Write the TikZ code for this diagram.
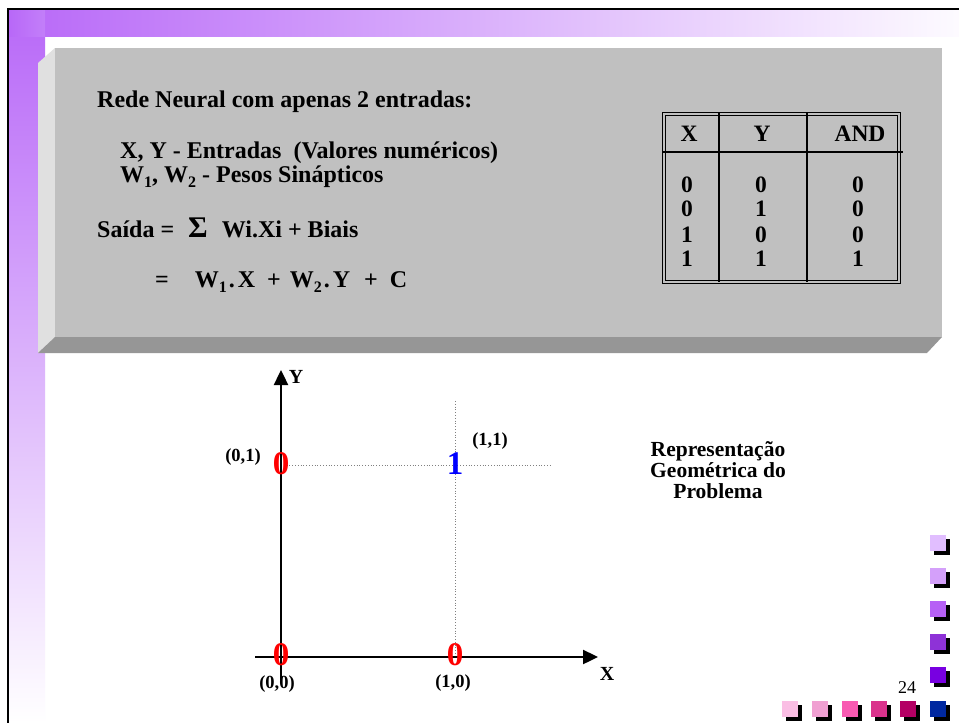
\documentclass[tikz,border=0pt]{standalone}
\usepackage{fontspec}
\setmainfont{Liberation Serif}
\usetikzlibrary{arrows.meta}
\definecolor{purp}{RGB}{184,104,248}
\definecolor{faceg}{RGB}{192,192,192}
\definecolor{lightg}{RGB}{224,224,224}
\definecolor{darkg}{RGB}{150,150,150}
\definecolor{rc1}{RGB}{225,190,255}
\definecolor{rc2}{RGB}{212,160,250}
\definecolor{rc3}{RGB}{182,96,245}
\definecolor{rc4}{RGB}{142,50,215}
\definecolor{rc5}{RGB}{120,0,225}
\definecolor{navy}{RGB}{0,40,160}
\definecolor{bc1}{RGB}{250,190,228}
\definecolor{bc2}{RGB}{240,160,210}
\definecolor{bc3}{RGB}{248,90,178}
\definecolor{bc4}{RGB}{218,50,140}
\definecolor{bc5}{RGB}{180,0,100}
\newcommand\sbs[1]{\raisebox{-5pt}{\fontsize{16}{16}\selectfont #1}}
\tikzset{
  txt/.style={font=\fontsize{24}{28}\selectfont\bfseries, anchor=base west, inner sep=0pt},
  tabtxt/.style={font=\fontsize{23.5}{26}\selectfont\bfseries, anchor=base, inner sep=0pt},
  coord/.style={font=\fontsize{18.5}{20}\selectfont\bfseries, inner sep=0pt},
  bigdig/.style={font=\fontsize{33}{36}\selectfont\bfseries, inner sep=0pt},
  axislbl/.style={font=\fontsize{20}{22}\selectfont\bfseries, inner sep=0pt},
  tline/.style={line width=1.8pt},
  dotl/.style={gray, dotted, line width=0.8pt},
  axis/.style={line width=2.4pt, -{Triangle[length=15pt,width=14pt]}},
}
\begin{document}
\begin{tikzpicture}[x=1pt,y=-1pt]
\useasboundingbox (0,0) rectangle (959,723);
\fill[white] (0,0) rectangle (959,723);
% gradient bars
\shade[left color=purp, right color=white!97!purp] (9,10) rectangle (959,36);
\shade[top color=purp, bottom color=white] (9,10) rectangle (45,723);
\shade[left color=purp, right color=purp!85!white] (9,10) rectangle (45,36);
% frame
\draw[line width=2pt] (8,723) -- (8,9) -- (959,9);
% panel
\fill[lightg] (38,63) -- (55,48) -- (55,337) -- (38,353) -- cycle;
\fill[darkg] (38,353) -- (55,337) -- (942,337) -- (927,353) -- cycle;
\fill[faceg] (55,48) rectangle (942,337);
% panel texts
\node[txt] (t1) at (97,107) {Rede Neural com apenas 2 entradas:};
\node[txt] (t2) at (120,158) {X, Y - Entradas\ \ (Valores numéricos)};
\node[txt] (t3) at (120,182) {W\sbs{1}, W\sbs{2} - Pesos Sinápticos};
\node[txt] (t4) at (97,237) {Saída =\hspace{14pt}{\fontsize{30}{30}\selectfont Σ}\hspace{14pt}Wi.Xi + Biais};
\node[txt] (t5) at (155,287) {=\hspace{26pt}W\sbs{1}\hspace{2pt}.\hspace{3pt}X\hspace{12pt}+\hspace{9pt}W\sbs{2}\hspace{2pt}.\hspace{3pt}Y\hspace{14pt}+\hspace{12pt}C};
% table
\draw[line width=1pt] (662,112) rectangle (900,283);
\draw[line width=1pt] (665,115) rectangle (897,280);
\draw[tline] (719,113) -- (719,282);
\draw[tline] (807,113) -- (807,282);
\draw[tline] (663,152) -- (903,152);
\node[tabtxt] (hx) at (689,141) {X};
\node[tabtxt] (hy) at (762,141) {Y};
\node[tabtxt] (ha) at (860,141) {AND};
\node[tabtxt] (a1) at (687,192) {0};
\node[tabtxt] (b1) at (761,192) {0};
\node[tabtxt] (c1) at (858,192) {0};
\node[tabtxt] (a2) at (687,216) {0};
\node[tabtxt] (b2) at (761,216) {1};
\node[tabtxt] (c2) at (858,216) {0};
\node[tabtxt] (a3) at (687,242) {1};
\node[tabtxt] (b3) at (761,242) {0};
\node[tabtxt] (c3) at (858,242) {0};
\node[tabtxt] (a4) at (687,266) {1};
\node[tabtxt] (b4) at (761,266) {1};
\node[tabtxt] (c4) at (858,266) {1};
% graph
\coordinate (ybot) at (281,680);
\coordinate (ytip) at (281,370);
\coordinate (xleft) at (255,657);
\coordinate (xtip) at (598,657);
\coordinate (hd0) at (281,465);
\coordinate (hd1) at (550,465);
\coordinate (vd0) at (455,401);
\coordinate (vd1) at (455,657);
\draw[dotl] (hd0) -- (hd1);
\draw[dotl] (vd0) -- (vd1);
\draw[axis] (ybot) -- (ytip);
\draw[axis] (xleft) -- (xtip);
\node[axislbl] (ylab) at (296,377) {Y};
\node[axislbl] (xlab) at (607,674) {X};
\node[bigdig, red] (p01) at (281,464) {0};
\node[bigdig, blue] (p11) at (455,464) {1};
\node[bigdig, red] (p00) at (281,655) {0};
\node[bigdig, red] (p10) at (455,655) {0};
\node[coord] (l01) at (243,457) {(0,1)};
\node[coord] (l11) at (490,441) {(1,1)};
\node[coord] (l00) at (277,684) {(0,0)};
\node[coord] (l10) at (453,683) {(1,0)};
\node[font=\fontsize{21.5}{21}\selectfont\bfseries, align=center, inner sep=0pt] (rep) at (718,470) {Representação\\Geométrica do\\Problema};
% decorative squares
\foreach \c/\yy [count=\i] in {rc1/535, rc2/568, rc3/601, rc4/634, rc5/667, navy/701} {
  \fill[black] (934,\yy+4) rectangle (950,\yy+20);
  \fill[\c] (930,\yy) rectangle (946,\yy+16);
}
\foreach \c/\xx [count=\i] in {bc1/782, bc2/812, bc3/842, bc4/871, bc5/900} {
  \fill[black] (\xx+4,705) rectangle (\xx+20,721);
  \fill[\c] (\xx,701) rectangle (\xx+16,717);
}
\node[font=\fontsize{18}{20}\selectfont, inner sep=0pt] (pg) at (907,688) {24};
\end{tikzpicture}
\end{document}
